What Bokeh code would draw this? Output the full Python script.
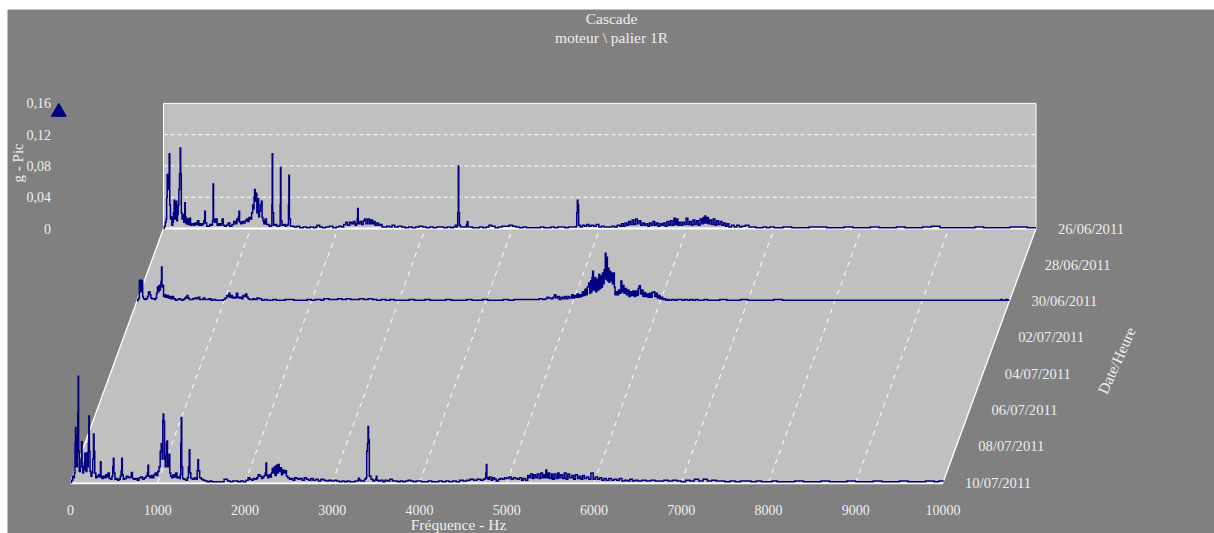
from bokeh.plotting import figure
from bokeh.embed import file_html
from bokeh.resources import INLINE
from bokeh.core.properties import value
from bokeh.models import Range1d

title_lines = ["Cascade", "moteur \\ palier 1R"]
x_label = "Fréquence - Hz"
y_label = "g - Pic"
z_label = "Date/Heure"
date_labels = ["26/06/2011", "28/06/2011", "30/06/2011", "02/07/2011",
               "04/07/2011", "06/07/2011", "08/07/2011", "10/07/2011"]
date_days = [0, 2, 4, 6, 8, 10, 12, 14]
x_ticks = [0, 1000, 2000, 3000, 4000, 5000, 6000, 7000, 8000, 9000, 10000]
y_ticks = [0, 0.04, 0.08, 0.12, 0.16]
y_tick_labels = ["0", "0,04", "0,08", "0,12", "0,16"]

# 10/07/2011
freq_front = [
 0,12,25,35,45,52,57,62,70,78,
 83,88,93,100,112,120,126,133,140,150,
 158,164,170,178,188,196,204,210,216,224,
 235,245,255,263,270,278,290,305,320,332,
 343,350,360,375,390,405,420,430,445,460,
 475,484,491,498,510,525,540,555,570,580,
 587,594,605,620,640,660,680,697,710,725,
 745,765,785,805,825,845,865,880,888,895,
 910,925,940,955,970,985,1000,1015,1028,1040,
 1050,1058,1063,1069,1078,1086,1093,1100,1105,1112,
 1120,1126,1131,1138,1148,1160,1175,1190,1205,1220,
 1235,1250,1258,1264,1269,1275,1285,1300,1320,1340,
 1352,1361,1368,1380,1400,1420,1440,1452,1460,1467,
 1480,1500,1520,1545,1570,1595,1620,1650,1680,1710,
 1740,1760,1780,1800,1830,1860,1890,1920,1950,1980,
 2010,2035,2055,2075,2095,2115,2135,2150,2170,2190,
 2205,2220,2232,2240,2248,2260,2275,2290,2302,2312,
 2322,2335,2345,2358,2370,2380,2392,2405,2418,2430,
 2445,2460,2475,2490,2510,2530,2550,2570,2590,2610,
 2630,2655,2680,2705,2730,2755,2780,2810,2840,2870,
 2900,2930,2960,2990,3020,3050,3080,3110,3140,3170,
 3200,3230,3260,3285,3298,3304,3312,3330,3350,3370,
 3385,3395,3403,3410,3416,3425,3445,3465,3485,3498,
 3505,3512,3530,3555,3580,3605,3630,3660,3690,3720,
 3750,3780,3810,3840,3870,3900,3930,3960,3990,4020,
 4060,4100,4140,4180,4220,4260,4300,4340,4380,4420,
 4460,4500,4540,4580,4620,4660,4700,4730,4750,4760,
 4766,4772,4785,4800,4820,4840,4860,4880,4905,4925,
 4950,4975,5000,5025,5050,5075,5100,5120,5145,5170,
 5190,5215,5240,5258,5275,5295,5310,5330,5350,5370,
 5390,5410,5425,5440,5448,5458,5475,5490,5510,5525,
 5545,5565,5585,5600,5620,5640,5660,5680,5700,5720,
 5745,5765,5785,5810,5830,5850,5870,5890,5915,5940,
 5965,5990,6015,6040,6065,6090,6115,6140,6170,6200,
 6230,6260,6290,6320,6350,6380,6410,6440,6470,6500,
 6550,6600,6650,6700,6750,6800,6850,6900,6950,7000,
 7050,7100,7150,7200,7250,7300,7350,7400,7450,7500,
 7560,7620,7680,7740,7800,7860,7920,7980,8040,8100,
 8200,8300,8400,8500,8600,8700,8800,8900,9000,9100,
 9200,9300,9400,9500,9600,9700,9800,9900,9950,10000,
]
amp_front = [
 0,.003,.008,.006,.012,.05,.0703,.055,.02,.06,
 .09,.136,.04,.014,.02,.03,.052,.02,.012,.018,
 .025,.0375,.016,.014,.038,.02,.05,.085,.04,.014,
 .008,.012,.03,.062,.04,.012,.006,.008,.01,.007,
 .0265,.008,.005,.008,.006,.01,.007,.012,.005,.004,
 .008,.02,.031,.012,.004,.005,.003,.004,.008,.015,
 .031,.01,.004,.005,.008,.006,.007,.0128,.005,.004,
 .005,.003,.006,.007,.004,.006,.008,.012,.022,.008,
 .006,.009,.006,.01,.012,.009,.014,.02,.04,.05,
 .03,.08,.0875,.078,.03,.02,.035,.05,.053,.02,
 .02,.03,.036,.012,.008,.006,.01,.007,.012,.006,
 .007,.005,.01,.05,.083,.02,.005,.004,.003,.006,
 .02,.042,.012,.005,.004,.006,.004,.015,.029,.015,
 .006,.004,.003,.002,.001,.002,.001,.001,.001,.001,
 .001,.004,.004,.002,.001,.002,.002,.001,.002,.001,
 .003,.006,.004,.003,.005,.004,.006,.010,.008,.005,
 .007,.009,.012,.025,.009,.006,.010,.007,.012,.018,
 .012,.02,.009,.022,.012,.023,.014,.019,.01,.016,
 .012,.015,.008,.006,.004,.005,.003,.006,.005,.004,
 .005,.003,.006,.004,.003,.005,.003,.004,.002,.004,
 .003,.002,.003,.002,.003,.002,.001,.002,.001,.002,
 .001,.001,.002,.002,.004,.0055,.003,.002,.002,.004,
 .006,.04,.05,.0716,.055,.008,.004,.002,.003,.004,
 .008,.003,.002,.003,.001,.003,.002,.004,.002,.002,
 .001,.002,.001,.002,.003,.002,.001,.002,.002,.001,
 .001,.002,.001,.001,.002,.001,.002,.001,.002,.001,
 .003,.002,.003,.004,.003,.004,.003,.004,.005,.012,
 .023,.006,.004,.007,.003,.006,.004,.002,.004,.005,
 .004,.006,.005,.007,.004,.006,.005,.004,.006,.003,
 .005,.003,.009,.006,.011,.005,.01,.006,.011,.005,
 .012,.006,.01,.006,.016,.006,.012,.005,.011,.004,
 .011,.005,.012,.006,.01,.005,.012,.004,.011,.006,
 .009,.004,.01,.005,.008,.004,.009,.005,.007,.004,
 .012,.004,.007,.004,.006,.003,.005,.003,.005,.003,
 .004,.003,.005,.002,.003,.002,.004,.002,.003,.002,
 .003,.002,.003,.002,.002,.003,.002,.003,.002,.001,
 .003,.002,.004,.002,.004,.002,.003,.002,.002,.001,
 .002,.001,.002,.002,.001,.002,.001,.001,.002,.001,
 .001,.002,.001,.001,.002,.001,.001,.002,.001,.001,
 .002,.001,.001,.002,.001,.001,.002,.001,.002,.001,
]

# 30/06/2011
freq_mid = [
 0,10,20,28,34,40,46,52,58,66,
 75,90,105,120,132,141,150,160,172,185,
 200,215,225,235,245,252,260,268,275,282,
 288,296,305,318,330,345,360,375,390,405,
 420,440,460,480,500,515,530,545,555,565,
 575,585,600,620,640,660,680,700,720,740,
 760,780,800,825,850,875,900,930,960,990,
 1010,1030,1043,1054,1065,1080,1095,1110,1125,1140,
 1155,1170,1185,1200,1215,1230,1245,1260,1275,1290,
 1310,1330,1350,1375,1400,1430,1460,1490,1520,1560,
 1600,1650,1700,1750,1800,1850,1900,1950,2000,2040,
 2080,2110,2140,2200,2260,2300,2350,2400,2450,2500,
 2550,2600,2650,2700,2750,2800,2850,2900,2950,3000,
 3060,3120,3180,3240,3300,3360,3420,3480,3540,3600,
 3660,3720,3780,3840,3900,3960,4020,4080,4140,4200,
 4260,4320,4380,4440,4500,4560,4610,4650,4680,4700,
 4720,4745,4770,4785,4800,4820,4840,4860,4880,4900,
 4920,4940,4960,4985,5000,5015,5030,5045,5060,5075,
 5090,5105,5120,5135,5150,5162,5177,5190,5200,5208,
 5216,5223,5232,5245,5258,5270,5282,5294,5305,5316,
 5326,5336,5346,5355,5362,5368,5376,5384,5392,5400,
 5410,5420,5430,5440,5450,5463,5472,5480,5490,5505,
 5520,5535,5547,5558,5570,5582,5595,5610,5625,5640,
 5655,5670,5685,5700,5715,5730,5745,5757,5770,5785,
 5800,5815,5830,5845,5860,5875,5890,5905,5920,5935,
 5950,5965,5980,5995,6010,6025,6040,6060,6080,6100,
 6130,6160,6190,6220,6250,6280,6310,6340,6370,6400,
 6430,6460,6500,6540,6600,6680,6760,6840,6920,7000,
 7100,7200,7300,7400,7500,7700,7900,8100,8300,8500,
 8800,9000,9200,9500,9800,9900,9920,9960,9980,10000,
]
amp_mid = [
 0,.002,.004,.026,.012,.027,.012,.026,.025,.006,
 .003,.002,.003,.006,.011,.012,.008,.004,.003,.003,
 .002,.004,.01,.018,.012,.02,.014,.02,.025,.0435,
 .018,.02,.006,.008,.005,.007,.004,.006,.003,.006,
 .003,.001,.002,.003,.002,.001,.002,.003,.005,.004,
 .007,.004,.002,.002,.003,.004,.003,.005,.002,.002,
 .004,.002,.002,.003,.001,.002,.001,.001,.001,.002,
 .004,.007,.006,.01,.005,.007,.004,.005,.004,.01,
 .005,.004,.005,.003,.007,.006,.009,.005,.003,.002,
 .002,.003,.002,.004,.003,.001,.002,.001,.001,.002,
 .001,.001,.002,.002,.001,.001,.001,.002,.001,.002,
 .002,.001,.003,.002,.002,.003,.002,.003,.002,.002,
 .003,.002,.003,.002,.001,.002,.001,.002,.001,.001,
 .001,.002,.001,.001,.002,.001,.001,.001,.002,.001,
 .001,.001,.002,.001,.001,.002,.001,.001,.001,.002,
 .001,.002,.002,.002,.002,.002,.003,.002,.003,.005,
 .004,.003,.005,.008,.004,.006,.002,.005,.003,.006,
 .003,.006,.004,.008,.004,.007,.005,.009,.005,.008,
 .006,.012,.007,.015,.008,.018,.023,.01,.026,.012,
 .03,.038,.014,.03,.012,.028,.014,.034,.016,.032,
 .018,.036,.022,.04,.03,.061,.028,.056,.026,.042,
 .024,.038,.026,.036,.022,.036,.018,.008,.012,.008,
 .014,.01,.0256,.012,.02,.01,.016,.008,.014,.006,
 .012,.007,.013,.006,.013,.007,.016,.0196,.009,.014,
 .006,.011,.006,.009,.005,.01,.005,.011,.012,.006,
 .01,.004,.007,.003,.005,.002,.003,.001,.002,.001,
 .002,.001,.002,.002,.001,.002,.001,.002,.001,.002,
 .001,.001,.002,.001,.001,.002,.001,.001,.002,.001,
 .001,.001,.002,.001,.001,.001,.001,.001,.001,.001,
 .001,.001,.001,.001,.001,.002,.001,.002,.001,.001,
]

# 26/06/2011
freq_back = [
 0,10,20,30,36,42,50,58,65,72,
 80,88,96,105,114,122,128,136,145,152,
 160,168,176,184,191,197,204,212,222,232,
 244,250,258,270,282,295,310,325,345,360,
 375,390,405,420,435,450,462,472,480,495,
 510,530,550,562,568,574,585,600,615,630,
 645,660,672,685,700,720,740,760,785,805,
 825,840,850,858,865,872,885,900,915,935,
 950,965,980,995,1010,1022,1030,1038,1044,1052,
 1060,1070,1082,1090,1100,1110,1121,1130,1140,1150,
 1165,1180,1195,1210,1225,1236,1242,1246,1251,1262,
 1280,1300,1320,1332,1337,1341,1346,1358,1375,1395,
 1410,1425,1432,1437,1443,1455,1475,1500,1530,1560,
 1600,1640,1680,1720,1745,1760,1790,1820,1860,1900,
 1940,1980,2010,2040,2065,2090,2110,2135,2155,2175,
 2195,2212,2220,2225,2232,2250,2270,2290,2305,2320,
 2340,2360,2378,2395,2410,2425,2445,2465,2485,2505,
 2530,2560,2590,2620,2650,2690,2730,2770,2810,2850,
 2890,2930,2970,3010,3050,3090,3130,3170,3210,3250,
 3290,3320,3345,3355,3365,3372,3379,3384,3392,3405,
 3430,3455,3470,3478,3482,3490,3510,3540,3580,3620,
 3660,3700,3730,3760,3800,3840,3880,3920,3960,4000,
 4040,4080,4120,4160,4200,4240,4280,4320,4360,4400,
 4440,4480,4520,4560,4600,4640,4680,4710,4730,4736,
 4743,4750,4758,4775,4800,4825,4850,4875,4900,4930,
 4960,4990,5020,5050,5080,5110,5140,5170,5200,5230,
 5250,5270,5290,5310,5330,5350,5370,5390,5410,5430,
 5450,5470,5490,5510,5530,5550,5570,5590,5610,5630,
 5650,5670,5690,5710,5730,5750,5770,5790,5810,5830,
 5850,5865,5880,5895,5910,5930,5950,5970,5990,6010,
 6030,6050,6070,6090,6110,6130,6150,6170,6185,6200,
 6206,6215,6230,6245,6260,6280,6300,6320,6340,6360,
 6380,6400,6420,6440,6460,6480,6510,6540,6570,6600,
 6630,6670,6710,6750,6790,6830,6870,6910,6950,7000,
 7100,7200,7300,7400,7500,7600,7700,7800,7900,8000,
 8100,8200,8300,8400,8500,8600,8700,8800,8900,9000,
 9100,9200,9300,9400,9500,9600,9700,9750,9900,10000,
]
amp_back = [
 0,.003,.008,.012,.04,.069,.06,.05,.0955,.03,
 .012,.015,.004,.008,.02,.036,.012,.018,.035,.01,
 .018,.03,.05,.07,.103,.07,.02,.012,.018,.008,
 .033,.015,.006,.012,.005,.013,.004,.006,.004,.007,
 .005,.01,.004,.006,.004,.006,.01,.022,.007,.003,
 .003,.005,.004,.01,.057,.012,.008,.012,.004,.006,
 .004,.006,.012,.004,.003,.004,.007,.003,.005,.009,
 .006,.012,.01,.015,.022,.008,.006,.009,.007,.01,
 .012,.009,.014,.012,.02,.03,.025,.04,.05,.035,
 .045,.02,.038,.015,.022,.03,.035,.014,.01,.006,
 .012,.005,.005,.003,.003,.004,.03,.0955,.02,.004,
 .005,.003,.003,.004,.03,.078,.01,.004,.005,.003,
 .004,.005,.03,.068,.012,.003,.003,.002,.003,.001,
 .002,.001,.002,.001,.002,.004,.002,.001,.002,.003,
 .001,.002,.003,.002,.005,.008,.004,.008,.006,.009,
 .004,.006,.012,.0256,.006,.009,.005,.01,.012,.006,
 .012,.006,.011,.006,.009,.004,.007,.004,.005,.002,
 .002,.003,.002,.004,.002,.003,.002,.001,.002,.001,
 .002,.003,.002,.001,.002,.001,.002,.002,.001,.002,
 .001,.002,.004,.002,.003,.02,.08,.02,.004,.002,
 .002,.002,.004,.006,.0085,.002,.002,.001,.001,.002,
 .001,.002,.004,.003,.001,.002,.003,.003,.004,.003,
 .002,.001,.002,.001,.001,.001,.001,.002,.001,.001,
 .002,.001,.002,.002,.001,.002,.002,.002,.003,.02,
 .036,.03,.004,.002,.004,.003,.005,.003,.004,.003,
 .005,.002,.003,.002,.002,.002,.003,.002,.004,.003,
 .006,.003,.007,.004,.009,.005,.011,.005,.012,.006,
 .01,.004,.007,.004,.006,.003,.007,.004,.009,.004,
 .007,.003,.006,.004,.007,.003,.009,.004,.01,.004,
 .013,.005,.012,.004,.008,.004,.008,.005,.013,.005,
 .009,.004,.011,.005,.01,.004,.012,.006,.014,.007,
 .016,.007,.014,.006,.011,.005,.012,.004,.01,.005,
 .009,.004,.007,.003,.006,.002,.004,.002,.004,.002,
 .003,.004,.002,.002,.001,.001,.002,.001,.002,.001,
 .002,.001,.001,.002,.002,.001,.001,.002,.001,.001,
 .002,.001,.001,.002,.001,.001,.002,.003,.001,.001,
 .001,.001,.002,.001,.001,.001,.002,.002,.001,.001,
]

# colours
BG = "#808080"
WALL = "#c0c0c0"
INK = "#000080"
LABEL = "#eeeeee"
FONT = value("Liberation Serif")

# projection of the cascade: depth 0 = last date (front), 1 = first date (back)
HZ_PER_PX = 1 / 0.08725
G_PER_PX = 1 / 782
SHIFT_F = 93 * HZ_PER_PX
SHIFT_A = 254 * G_PER_PX
span = date_days[-1]


def depth(day):
    return (span - day) / span


def px(freqs, d):
    return [f + d * SHIFT_F for f in freqs]


def py(amps, d):
    return [a + d * SHIFT_A for a in amps]


W, H, LEFT, TOP = 1214, 533, 7, 9
p = figure(width=W, height=H, output_backend="svg", toolbar_location=None,
           x_axis_location=None, y_axis_location=None,
           min_border_left=LEFT, min_border_top=TOP, min_border_right=0, min_border_bottom=0,
           x_range=Range1d((LEFT - 70) * HZ_PER_PX, (W - 70) * HZ_PER_PX),
           y_range=Range1d((482 - H) * G_PER_PX, (482 - TOP) * G_PER_PX),
           background_fill_color=BG, border_fill_color="white", outline_line_color=None)
p.grid.visible = False

f0, f1 = x_ticks[0], x_ticks[-1]
top = y_ticks[-1]
# back wall and floor
p.patch(px([f0, f1, f1, f0], 1), py([0, 0, top, top], 1), fill_color=WALL, line_color=None)
p.patch([f0, f1, f1 + SHIFT_F, f0 + SHIFT_F], [0, 0, SHIFT_A, SHIFT_A], fill_color=WALL, line_color=None)
# dashed grids
for a in y_ticks[1:-1]:
    p.line(px([f0, f1], 1), py([a, a], 1), line_color="white", line_width=1, line_dash="4 3")
for f in x_ticks[1:-1]:
    p.line([f, f + SHIFT_F], [0, SHIFT_A], line_color="white", line_width=1, line_dash="5 5")
# white edges
p.line(px([f0, f0, f1, f1], 1), py([0, top, top, 0], 1), line_color="white", line_width=1)
p.line([f0, f0 + SHIFT_F], [0, SHIFT_A], line_color="white", line_width=1.3)
p.line([f1, f1 + SHIFT_F], [0, SHIFT_A], line_color="white", line_width=1.3)
p.line(px([f0, f1], 1), py([0, 0], 1), line_color="white", line_width=2)
p.line([f0, f1], [-0.001, -0.001], line_color="white", line_width=2)

# spectra
for freqs, amps, day in [(freq_back, amp_back, 0), (freq_mid, amp_mid, 4), (freq_front, amp_front, 14)]:
    d = depth(day)
    p.step(px(freqs, d), py(amps, d), mode="after", line_color=INK, line_width=1.5, line_join="miter")

# marker above the amplitude axis
p.scatter(px([-1200], 1), py([0.149], 1), marker="triangle", size=15, fill_color=INK, line_color=INK)


def label(x, y, text, align="center", angle=0.0, size="14px", color=LABEL):
    p.text(x, y, text=[text] if isinstance(text, str) else text, text_font=FONT, text_font_size=size,
           text_color=color, text_align=align, text_baseline="middle", angle=angle)


# titles
label([541 * HZ_PER_PX], [(482 - 18) * G_PER_PX], title_lines[0], size="15.5px")
label([541 * HZ_PER_PX], [(482 - 37) * G_PER_PX], title_lines[1], size="15.5px")
# frequency ticks
label(x_ticks, [-27 * G_PER_PX] * len(x_ticks), [str(t) for t in x_ticks])
label([388 * HZ_PER_PX], [-42 * G_PER_PX], x_label, size="15.5px")
# amplitude ticks
label(px([-1290] * len(y_ticks), 1), py(y_ticks, 1), y_tick_labels, align="right")
label(px([-1670], 1), py([0.084], 1), y_label, angle=1.5708, size="15px")
# date ticks
for text, day in zip(date_labels, date_days):
    d = depth(day)
    label(px([f1 + 22 * HZ_PER_PX], d), py([0], d), text, align="left", size="14.6px")
label([1046 * HZ_PER_PX], [122 * G_PER_PX], z_label, angle=1.15, size="15.5px")

open("out.html", "w").write(file_html(p, INLINE))
